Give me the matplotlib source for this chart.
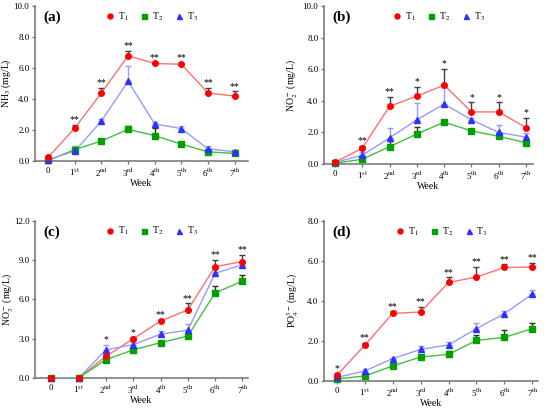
import matplotlib
matplotlib.use("Agg")
import matplotlib.pyplot as plt
import numpy as np

plt.rcParams["font.family"] = ["Liberation Serif", "DejaVu Serif"]
plt.rcParams["mathtext.fontset"] = "stix"

# DATA
weeks = [0, 1, 2, 3, 4, 5, 6, 7]
week_labels = ["0", "1$^{\\mathrm{st}}$", "2$^{\\mathrm{nd}}$", "3$^{\\mathrm{rd}}$",
               "4$^{\\mathrm{th}}$", "5$^{\\mathrm{th}}$", "6$^{\\mathrm{th}}$", "7$^{\\mathrm{th}}$"]

nh3_t1 = [0.25, 2.15, 4.4, 6.8, 6.3, 6.25, 4.4, 4.2]
nh3_t1_err = [0.05, 0.2, 0.35, 0.3, 0.05, 0.1, 0.3, 0.3]
nh3_t2 = [0.05, 0.75, 1.3, 2.05, 1.65, 1.1, 0.6, 0.5]
nh3_t2_err = [0.05, 0.1, 0.1, 0.2, 0.5, 0.1, 0.1, 0.1]
nh3_t3 = [0.1, 0.65, 2.6, 5.15, 2.4, 2.1, 0.8, 0.6]
nh3_t3_err = [0.05, 0.3, 0.1, 1.0, 0.1, 0.15, 0.15, 0.1]
nh3_stars = ["", "**", "**", "**", "**", "**", "**", "**"]

no2_t1 = [0.1, 1.0, 3.65, 4.3, 5.0, 3.3, 3.3, 2.3]
no2_t1_err = [0.05, 0.15, 0.6, 0.6, 1.0, 0.6, 0.6, 0.6]
no2_t2 = [0.05, 0.3, 1.1, 1.9, 2.65, 2.1, 1.75, 1.35]
no2_t2_err = [0.05, 0.1, 0.35, 0.45, 0.1, 0.1, 0.1, 0.1]
no2_t3 = [0.1, 0.55, 1.65, 2.8, 3.8, 2.8, 2.0, 1.7]
no2_t3_err = [0.05, 0.2, 0.6, 1.05, 1.1, 0.1, 0.5, 0.25]
no2_stars = ["", "**", "**", "*", "*", "*", "*", "*"]

no3_t1 = [0, 0, 1.65, 3.0, 4.35, 5.2, 8.5, 8.9]
no3_t1_err = [0, 0, 0.2, 0.1, 0.1, 0.5, 0.5, 0.5]
no3_t2 = [0, 0, 1.4, 2.15, 2.7, 3.2, 6.5, 7.4]
no3_t2_err = [0, 0, 0.1, 0.1, 0.1, 0.1, 0.5, 0.5]
no3_t3 = [0, 0, 2.15, 2.55, 3.35, 3.65, 8.0, 8.65]
no3_t3_err = [0, 0, 0.4, 0.2, 0.25, 0.5, 0.3, 0.2]
no3_stars = ["", "", "*", "*", "**", "**", "**", "**"]

po4_t1 = [0.28, 1.78, 3.38, 3.45, 4.93, 5.2, 5.68, 5.7]
po4_t1_err = [0.05, 0.1, 0.1, 0.25, 0.25, 0.5, 0.15, 0.2]
po4_t2 = [0.1, 0.25, 0.75, 1.2, 1.33, 2.03, 2.18, 2.62]
po4_t2_err = [0.05, 0.05, 0.05, 0.1, 0.15, 0.25, 0.35, 0.3]
po4_t3 = [0.18, 0.5, 1.12, 1.58, 1.8, 2.62, 3.37, 4.35]
po4_t3_err = [0.05, 0.1, 0.05, 0.15, 0.15, 0.3, 0.15, 0.2]
po4_stars = ["*", "**", "**", "**", "**", "**", "**", "**"]


def panel(ax, tag, ylabel, ymax, ystep, series, stars, xlim, ylab_x):
    # label, marker, marker colour, line colour, error bar colour, z
    styles = [
        ("T$_1$", "o", "#ff0000", "#ff7070", "#404040", 6),
        ("T$_2$", "s", "#00a000", "#40c040", "#303030", 4),
        ("T$_3$", "^", "#3030ff", "#9a9aff", "#9a9aff", 5),
    ]
    x = np.array(weeks)
    tops = np.zeros(len(weeks))
    for (vals, err), (lab, mk, mc, lc, ec, z) in zip(series, styles):
        vals = np.array(vals)
        err = np.array(err)
        ax.errorbar(x, vals, yerr=[np.zeros_like(err), err], fmt="none",
                    ecolor=ec, elinewidth=1.0, capsize=2, capthick=1.0, zorder=2)
        ax.plot(x, vals, "-", color=lc, lw=1.0, zorder=3)
        ax.plot(x, vals, mk, color=mc, ms=4, ls="none", label=lab, zorder=z,
                clip_on=False)
        tops = np.maximum(tops, vals + err)
    for xi, t, s in zip(x, tops, stars):
        if s:
            ax.text(xi, t + ymax * 0.005, s, ha="center", va="bottom", fontsize=7)

    ax.set_xlim(*xlim)
    ax.set_ylim(0, ymax)
    ticks = np.arange(0, ymax + 0.001, ystep)
    ax.set_yticks(ticks)
    ax.set_yticklabels([f"{v:.1f}" for v in ticks])
    ax.set_xticks(weeks)
    ax.set_xticklabels(week_labels)
    ax.tick_params(labelsize=6.5, length=2.5, width=0.9, direction="out",
                   pad=1.5, color="#707070")
    for side in ["top", "right"]:
        ax.spines[side].set_visible(False)
    for side in ["left", "bottom"]:
        ax.spines[side].set_linewidth(1.1)
        ax.spines[side].set_color("#707070")
    ax.set_xlabel("Week", fontsize=7, labelpad=0)
    ax.set_ylabel(ylabel, fontsize=7)
    ax.yaxis.set_label_coords(ylab_x, 0.5)
    ax.text(0.04, 0.97, tag, transform=ax.transAxes, fontsize=11,
            fontweight="bold", va="top", ha="left")
    ax.legend(loc="upper center", bbox_to_anchor=(0.55, 1.03), ncol=3,
              frameon=False, fontsize=7, handlelength=0.8, handletextpad=0.4,
              columnspacing=1.2, markerscale=0.9)


fig = plt.figure(figsize=(5.5, 4.09), dpi=100)

ax_a = fig.add_axes([0.0636, 0.606, 0.387, 0.379])
ax_b = fig.add_axes([0.589, 0.599, 0.380, 0.386])
ax_c = fig.add_axes([0.0636, 0.0758, 0.387, 0.384])
ax_d = fig.add_axes([0.589, 0.0685, 0.389, 0.391])

panel(ax_a, "(a)", "NH$_3$ (mg/L)", 10.0, 2.0,
      [(nh3_t1, nh3_t1_err), (nh3_t2, nh3_t2_err), (nh3_t3, nh3_t3_err)],
      nh3_stars, (-0.5, 7.5), -0.105)
panel(ax_b, "(b)", "NO$_2^-$ (mg/L)", 10.0, 2.0,
      [(no2_t1, no2_t1_err), (no2_t2, no2_t2_err), (no2_t3, no2_t3_err)],
      no2_stars, (-0.4, 7.25), -0.12)
panel(ax_c, "(c)", "NO$_3^-$ (mg/L)", 12.0, 3.0,
      [(no3_t1, no3_t1_err), (no3_t2, no3_t2_err), (no3_t3, no3_t3_err)],
      no3_stars, (-0.6, 7.2), -0.092)
panel(ax_d, "(d)", "PO$_4^{3-}$ (mg/L)", 8.0, 2.0,
      [(po4_t1, po4_t1_err), (po4_t2, po4_t2_err), (po4_t3, po4_t3_err)],
      po4_stars, (-0.46, 7.2), -0.107)

fig.savefig("out.png", dpi=100)
